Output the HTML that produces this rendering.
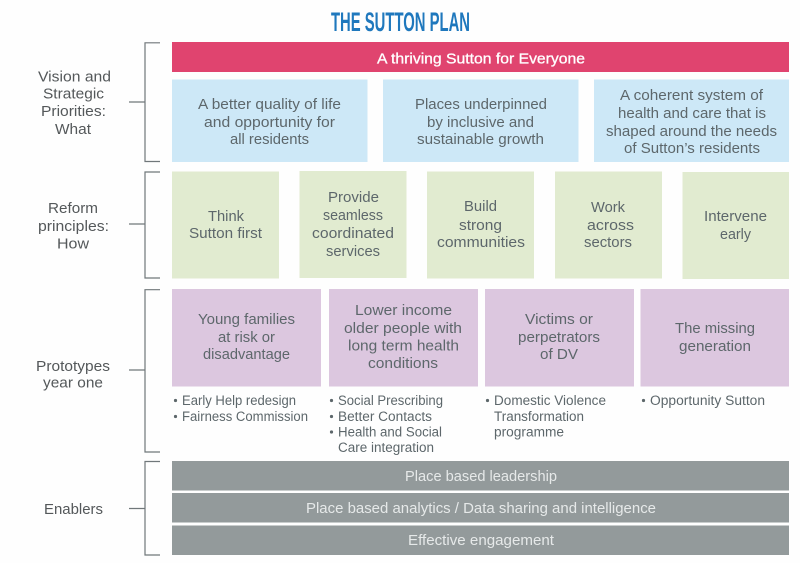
<!DOCTYPE html>
<html lang="en">
<head>
<meta charset="utf-8">
<title>The Sutton Plan</title>
<style>
html,body{margin:0;padding:0;background:#fefefe;}
svg{display:block;}
text{font-family:"Liberation Sans",sans-serif;}
.m text{font-size:15px;fill:#5d676b;}
.l text{font-size:14.5px;fill:#54585a;}
.b text{font-size:13.5px;fill:#5d676b;}
.g text{font-size:14.5px;fill:#e6e9e9;}
</style>
</head>
<body>
<svg width="800" height="563" viewBox="0 0 800 563" xmlns="http://www.w3.org/2000/svg">
<rect width="800" height="563" fill="#fefefe"/>
<text x="331" y="31" font-size="26.5" font-weight="700" fill="#1f78bd" textLength="139" lengthAdjust="spacingAndGlyphs">THE SUTTON PLAN</text>

<g fill="none" stroke="#70777a" stroke-width="1.2">
<path d="M160 42.8H145V161.5H160M129 102H145"/>
<path d="M160 172H145V278H160M129 224H145"/>
<path d="M160 289.7H145V452H160M129 370H145"/>
<path d="M160 461.5H145V555H160M129 508.5H145"/>
</g>

<rect x="172" y="42" width="617" height="30" fill="#e0446f"/>
<g fill="#cde8f7">
<rect x="172" y="79.5" width="195.5" height="82.5"/>
<rect x="383" y="79.5" width="195.5" height="82.5"/>
<rect x="594" y="79.5" width="195" height="82.5"/>
</g>
<g fill="#e1ebd0">
<rect x="172" y="171.5" width="107" height="107"/>
<rect x="299.5" y="171" width="107" height="107"/>
<rect x="427" y="171.5" width="107" height="107"/>
<rect x="555" y="171.5" width="107" height="107"/>
<rect x="682.5" y="172" width="106.5" height="107"/>
</g>
<g fill="#dcc7df">
<rect x="172" y="289" width="149" height="97.5"/>
<rect x="329" y="289" width="149" height="97.5"/>
<rect x="485" y="289" width="149" height="97.5"/>
<rect x="640.5" y="289" width="148.5" height="97.5"/>
</g>
<g fill="#939a9b">
<rect x="172" y="461" width="617" height="29.5"/>
<rect x="172" y="493" width="617" height="29.5"/>
<rect x="172" y="525.5" width="617" height="29.5"/>
</g>

<text x="377" y="63.5" font-size="14.5" fill="#fff" stroke="#fff" stroke-width="0.3" textLength="208" lengthAdjust="spacingAndGlyphs">A thriving Sutton for Everyone</text>

<g class="l">
<text x="38" y="81.5" textLength="73" lengthAdjust="spacingAndGlyphs">Vision and</text>
<text x="43" y="98.5" textLength="61" lengthAdjust="spacingAndGlyphs">Strategic</text>
<text x="41" y="116" textLength="65" lengthAdjust="spacingAndGlyphs">Priorities:</text>
<text x="55" y="134" textLength="36" lengthAdjust="spacingAndGlyphs">What</text>
<text x="48" y="213" textLength="50" lengthAdjust="spacingAndGlyphs">Reform</text>
<text x="38" y="231" textLength="71" lengthAdjust="spacingAndGlyphs">principles:</text>
<text x="57" y="248.5" textLength="32" lengthAdjust="spacingAndGlyphs">How</text>
<text x="36" y="371" textLength="74" lengthAdjust="spacingAndGlyphs">Prototypes</text>
<text x="43" y="387.5" textLength="60" lengthAdjust="spacingAndGlyphs">year one</text>
<text x="44" y="514" textLength="59" lengthAdjust="spacingAndGlyphs">Enablers</text>
</g>

<g class="m">
<text x="198" y="109" textLength="143" lengthAdjust="spacingAndGlyphs">A better quality of life</text>
<text x="204" y="127" textLength="131" lengthAdjust="spacingAndGlyphs">and opportunity for</text>
<text x="230" y="144" textLength="79" lengthAdjust="spacingAndGlyphs">all residents</text>
<text x="415" y="109" textLength="132" lengthAdjust="spacingAndGlyphs">Places underpinned</text>
<text x="427" y="127" textLength="107" lengthAdjust="spacingAndGlyphs">by inclusive and</text>
<text x="417" y="144" textLength="127" lengthAdjust="spacingAndGlyphs">sustainable growth</text>
<text x="620" y="100" textLength="143" lengthAdjust="spacingAndGlyphs">A coherent system of</text>
<text x="618" y="118" textLength="148" lengthAdjust="spacingAndGlyphs">health and care that is</text>
<text x="606" y="136" textLength="171" lengthAdjust="spacingAndGlyphs">shaped around the needs</text>
<text x="624" y="153" textLength="136" lengthAdjust="spacingAndGlyphs">of Sutton’s residents</text>

<text x="208" y="221" textLength="36" lengthAdjust="spacingAndGlyphs">Think</text>
<text x="189" y="238" textLength="73" lengthAdjust="spacingAndGlyphs">Sutton first</text>
<text x="328" y="202" textLength="51" lengthAdjust="spacingAndGlyphs">Provide</text>
<text x="323" y="220" textLength="60" lengthAdjust="spacingAndGlyphs">seamless</text>
<text x="312" y="238" textLength="82" lengthAdjust="spacingAndGlyphs">coordinated</text>
<text x="326" y="256" textLength="54" lengthAdjust="spacingAndGlyphs">services</text>
<text x="464" y="211" textLength="33" lengthAdjust="spacingAndGlyphs">Build</text>
<text x="459" y="230" textLength="43" lengthAdjust="spacingAndGlyphs">strong</text>
<text x="437" y="247" textLength="88" lengthAdjust="spacingAndGlyphs">communities</text>
<text x="591" y="212" textLength="34" lengthAdjust="spacingAndGlyphs">Work</text>
<text x="587" y="230" textLength="47" lengthAdjust="spacingAndGlyphs">across</text>
<text x="584" y="247" textLength="48" lengthAdjust="spacingAndGlyphs">sectors</text>
<text x="704" y="221" textLength="63" lengthAdjust="spacingAndGlyphs">Intervene</text>
<text x="720" y="239" textLength="31" lengthAdjust="spacingAndGlyphs">early</text>

<text x="198" y="324" textLength="97" lengthAdjust="spacingAndGlyphs">Young families</text>
<text x="218" y="342" textLength="57" lengthAdjust="spacingAndGlyphs">at risk or</text>
<text x="203" y="359" textLength="87" lengthAdjust="spacingAndGlyphs">disadvantage</text>
<text x="355" y="315" textLength="97" lengthAdjust="spacingAndGlyphs">Lower income</text>
<text x="344" y="333" textLength="118" lengthAdjust="spacingAndGlyphs">older people with</text>
<text x="348" y="350.5" textLength="111" lengthAdjust="spacingAndGlyphs">long term health</text>
<text x="368" y="368" textLength="70" lengthAdjust="spacingAndGlyphs">conditions</text>
<text x="525" y="324" textLength="68" lengthAdjust="spacingAndGlyphs">Victims or</text>
<text x="518" y="342" textLength="82" lengthAdjust="spacingAndGlyphs">perpetrators</text>
<text x="540" y="359" textLength="38" lengthAdjust="spacingAndGlyphs">of DV</text>
<text x="675" y="333" textLength="80" lengthAdjust="spacingAndGlyphs">The missing</text>
<text x="679" y="351" textLength="72" lengthAdjust="spacingAndGlyphs">generation</text>
</g>

<g fill="#5d676b">
<circle cx="175.5" cy="400.5" r="1.6"/>
<circle cx="175.5" cy="416.5" r="1.6"/>
<circle cx="331.5" cy="400.5" r="1.6"/>
<circle cx="331.5" cy="416.5" r="1.6"/>
<circle cx="331.5" cy="432" r="1.6"/>
<circle cx="487.5" cy="400.5" r="1.6"/>
<circle cx="643.5" cy="400.5" r="1.6"/>
</g>
<g class="b">
<text x="182" y="405" textLength="114" lengthAdjust="spacingAndGlyphs">Early Help redesign</text>
<text x="182" y="421" textLength="126" lengthAdjust="spacingAndGlyphs">Fairness Commission</text>
<text x="338" y="405" textLength="105" lengthAdjust="spacingAndGlyphs">Social Prescribing</text>
<text x="338" y="421" textLength="94" lengthAdjust="spacingAndGlyphs">Better Contacts</text>
<text x="338" y="436.5" textLength="104" lengthAdjust="spacingAndGlyphs">Health and Social</text>
<text x="338" y="452" textLength="96" lengthAdjust="spacingAndGlyphs">Care integration</text>
<text x="494" y="405" textLength="112" lengthAdjust="spacingAndGlyphs">Domestic Violence</text>
<text x="494" y="421" textLength="90" lengthAdjust="spacingAndGlyphs">Transformation</text>
<text x="494" y="436.5" textLength="70" lengthAdjust="spacingAndGlyphs">programme</text>
<text x="650" y="405" textLength="115" lengthAdjust="spacingAndGlyphs">Opportunity Sutton</text>
</g>

<g class="g">
<text x="405" y="481" textLength="152" lengthAdjust="spacingAndGlyphs">Place based leadership</text>
<text x="306" y="513" textLength="350" lengthAdjust="spacingAndGlyphs">Place based analytics / Data sharing and intelligence</text>
<text x="408" y="545" textLength="146" lengthAdjust="spacingAndGlyphs">Effective engagement</text>
</g>
</svg>
</body>
</html>
